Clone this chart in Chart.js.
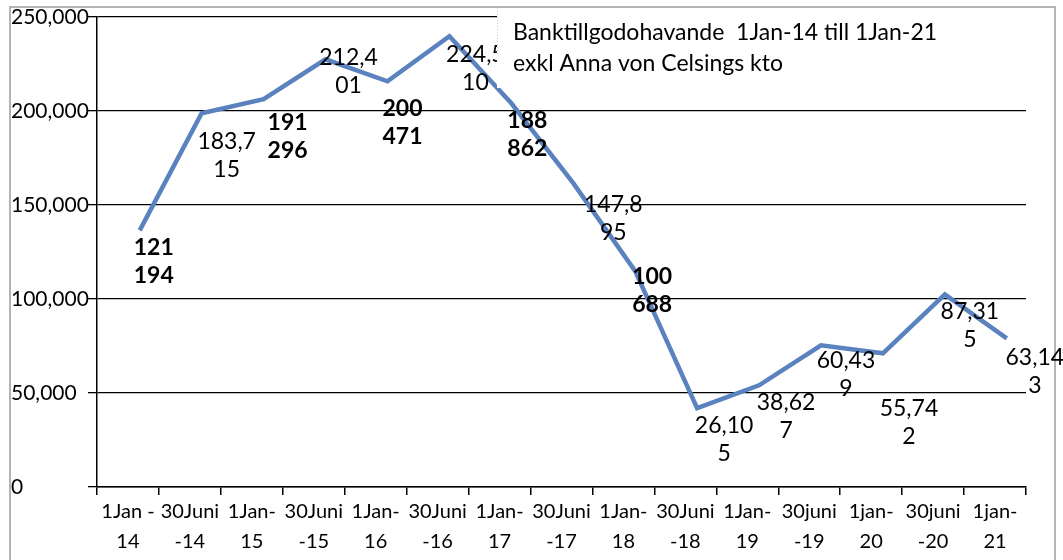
<!DOCTYPE html>
<html>
<head>
<meta charset="utf-8">
<script src="https://cdn.jsdelivr.net/npm/chart.js@4"></script>
<style>
  html, body { margin: 0; padding: 0; background: #fff; }
  #wrap { width: 1063px; height: 560px; }
</style>
</head>
<body>
<div id="wrap"><canvas id="chart"></canvas></div>
<script>
// tick labels along the x axis (two lines each, as in the sheet)
const periods = [
    ['1Jan -', '14'], ['30Juni', '-14'], ['1Jan-', '15'], ['30Juni', '-15'],
    ['1Jan-', '16'], ['30Juni', '-16'], ['1Jan-', '17'], ['30Juni', '-17'],
    ['1Jan-', '18'], ['30Juni', '-18'], ['1Jan-', '19'], ['30juni', '-19'],
    ['1jan-', '20'], ['30juni', '-20'], ['1jan-', '21']
];
// plotted balance
const balances = [136500, 198800, 206300, 227500, 215800, 239800, 204100, 161600,
    114800, 41900, 54100, 75400, 71100, 102500, 79100];
// data label texts as they appear (wrapped)
const pointLabels = [
    ['121', '194'], ['183,7', '15'], ['191', '296'], ['212,4', '01'], ['200', '471'],
    ['224,5', '10'], ['188', '862'], ['147,8', '95'], ['100', '688'], ['26,10', '5'],
    ['38,62', '7'], ['60,43', '9'], ['55,74', '2'], ['87,31', '5'], ['63,14', '3']
];
const boldLabels = [true, false, true, false, true, false, true, false, true,
    false, false, false, false, false, false];
const titleLines = ['Banktillgodohavande  1Jan-14 till 1Jan-21', 'exkl Anna von Celsings kto'];

const FONT = 'Lato, "Open Sans", sans-serif';

// where each label sits relative to its point (dx, dy of the text block centre)
const labelShift = [
    [14, 31], [25, 42], [24, 37], [23, 12], [15, 41], [26, 32], [16, 31], [40, 35],
    [17, 19], [27, 31], [27, 31], [25, 29], [26, 69], [25, 31], [28, 33]
];

const overlay = {
    id: 'overlay',
    beforeDraw(chart) {
        const c = chart.ctx;
        c.save();
        c.fillStyle = '#fff';
        c.fillRect(0, 0, chart.width, chart.height);
        c.restore();
    },
    afterDatasetsDraw(chart) {
        const c = chart.ctx;
        const meta = chart.getDatasetMeta(0);
        c.save();

        // outer frame
        c.strokeStyle = '#b4b4b4';
        c.lineWidth = 2;
        c.beginPath();
        c.moveTo(10, 560);
        c.lineTo(10, 7);
        c.lineTo(1055, 7);
        c.lineTo(1055, 560);
        c.stroke();

        c.fillStyle = '#000';
        c.textAlign = 'center';
        c.textBaseline = 'middle';
        meta.data.forEach((pt, i) => {
            c.font = (boldLabels[i] ? 'bold ' : '') + '23px ' + FONT;
            const cx = pt.x + labelShift[i][0];
            const cy = pt.y + labelShift[i][1];
            c.fillText(pointLabels[i][0], cx, cy - 14);
            c.fillText(pointLabels[i][1], cx, cy + 14);
        });

        // title box sits on top of the plot
        c.fillStyle = '#fff';
        c.fillRect(497, 8, 557, 80);
        c.strokeStyle = '#c8c8c8';
        c.lineWidth = 1;
        c.setLineDash([1, 2]);
        c.beginPath();
        c.moveTo(497.5, 8);
        c.lineTo(497.5, 55);
        c.stroke();
        c.setLineDash([]);
        c.fillStyle = '#000';
        c.textAlign = 'left';
        c.font = '23px ' + FONT;
        c.fillText(titleLines[0], 513, 33);
        c.fillText(titleLines[1], 513, 64);
        c.restore();
    }
};

new Chart(document.getElementById('chart'), {
    type: 'line',
    data: {
        labels: periods,
        datasets: [{
            data: balances.map((v, i) => ({x: i, y: v})),
            xAxisID: 'xp',
            borderColor: '#5a82bf',
            borderWidth: 4.5,
            pointRadius: 0,
            tension: 0,
            fill: false
        }]
    },
    options: {
        responsive: true,
        maintainAspectRatio: false,
        animation: false,
        layout: {padding: {top: 17, right: 37, left: 11, bottom: 0}},
        plugins: {
            legend: {display: false},
            tooltip: {enabled: false}
        },
        scales: {
            x: {
                type: 'category',
                offset: true,
                grid: {
                    offset: true,
                    drawOnChartArea: false,
                    drawTicks: true,
                    tickLength: 8,
                    color: '#000',
                    lineWidth: 1.5
                },
                border: {display: true, color: '#000', width: 1.5},
                ticks: {
                    color: '#000',
                    font: {family: FONT, size: 20, lineHeight: 1.5},
                    padding: 2,
                    maxRotation: 0,
                    autoSkip: false
                },
                afterFit(scale) { scale.height = 73; }
            },
            xp: {
                type: 'linear',
                display: false,
                min: -0.69,
                max: 14.31
            },
            y: {
                min: 0,
                max: 250000,
                grid: {
                    color: '#000',
                    lineWidth: 1.3,
                    tickLength: 9
                },
                border: {display: true, color: '#000', width: 1.5},
                ticks: {
                    stepSize: 50000,
                    color: '#000',
                    crossAlign: 'far',
                    font: {family: FONT, size: 21},
                    callback: v => v.toLocaleString('en-US')
                },
                afterFit(scale) { scale.width = 86; }
            }
        }
    },
    plugins: [overlay]
});
</script>
</body>
</html>
